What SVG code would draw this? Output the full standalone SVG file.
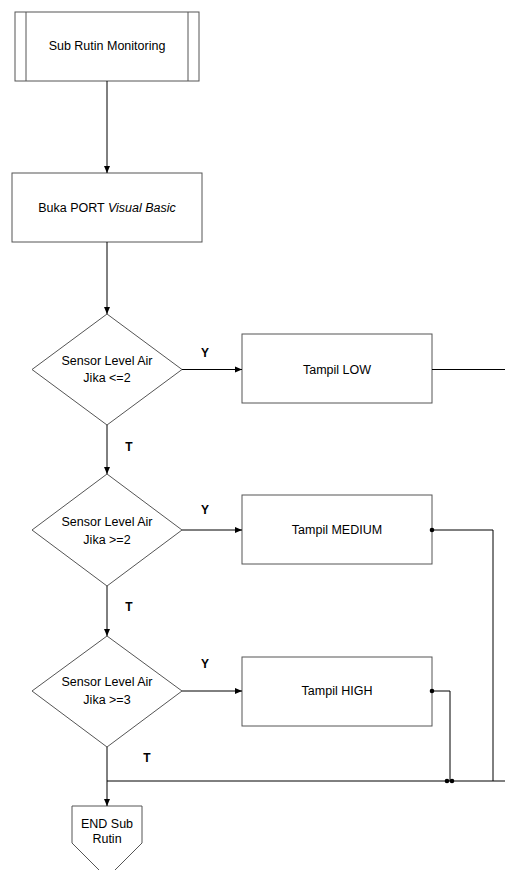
<svg xmlns="http://www.w3.org/2000/svg" width="505" height="870" viewBox="0 0 505 870">
<style>
.n{fill:#fff;stroke:#555;stroke-width:1}
.c{fill:none;stroke:#000;stroke-width:1}
.t{font-family:"Liberation Sans",Arial,sans-serif;font-size:12.5px;fill:#000;text-anchor:middle}
.l{font-family:"Liberation Sans",Arial,sans-serif;font-size:12px;font-weight:bold;fill:#000;text-anchor:middle}
</style>
<defs>
<marker id="a" markerWidth="8" markerHeight="8" refX="7" refY="4" orient="auto" markerUnits="userSpaceOnUse">
<path d="M0,1 L7,4 L0,7 Z" fill="#000"/>
</marker>
</defs>
<rect width="505" height="870" fill="#fff"/>
<g id="start">
<rect class="n" x="15" y="12" width="184" height="69"/>
<line class="n" x1="26" y1="12" x2="26" y2="81"/>
<line class="n" x1="188" y1="12" x2="188" y2="81"/>
<text class="t" x="107" y="50">Sub Rutin Monitoring</text>
</g>
<g id="open-port">
<rect class="n" x="12" y="173" width="190" height="69"/>
<text class="t" x="107" y="212">Buka PORT <tspan font-style="italic">Visual Basic</tspan></text>
</g>
<g id="dec1">
<polygon class="n" points="107,314 182,369.5 107,425 32,369.5"/>
<text class="t" x="107" y="365">Sensor Level Air</text>
<text class="t" x="107" y="382">Jika &lt;=2</text>
</g>
<g id="low">
<rect class="n" x="242" y="334" width="190" height="69"/>
<text class="t" x="337" y="374">Tampil LOW</text>
</g>
<g id="dec2">
<polygon class="n" points="107,474 182,530 107,586 32,530"/>
<text class="t" x="107" y="526">Sensor Level Air</text>
<text class="t" x="107" y="544">Jika &gt;=2</text>
</g>
<g id="medium">
<rect class="n" x="242" y="495" width="190" height="69"/>
<text class="t" x="337" y="534">Tampil MEDIUM</text>
</g>
<g id="dec3">
<polygon class="n" points="107,636 182,691 107,747 32,691"/>
<text class="t" x="107" y="686">Sensor Level Air</text>
<text class="t" x="107" y="704">Jika &gt;=3</text>
</g>
<g id="high">
<rect class="n" x="242" y="657" width="190" height="69"/>
<text class="t" x="337" y="695">Tampil HIGH</text>
</g>
<g id="end">
<polygon class="n" points="72,806 142,806 142,843 107,878 72,843"/>
<text class="t" x="107" y="828">END Sub</text>
<text class="t" x="107" y="843">Rutin</text>
</g>
<g id="connectors">
<line class="c" x1="107" y1="81" x2="107" y2="173" marker-end="url(#a)"/>
<line class="c" x1="107" y1="242" x2="107" y2="314" marker-end="url(#a)"/>
<line class="c" x1="182" y1="369.5" x2="242" y2="369.5" marker-end="url(#a)"/>
<line class="c" x1="432" y1="369.5" x2="505" y2="369.5"/>
<line class="c" x1="107" y1="425" x2="107" y2="474" marker-end="url(#a)"/>
<line class="c" x1="182" y1="530" x2="242" y2="530" marker-end="url(#a)"/>
<polyline class="c" points="432,530 493,530 493,781"/>
<circle cx="432" cy="530" r="2.3" fill="#000"/>
<line class="c" x1="107" y1="586" x2="107" y2="636" marker-end="url(#a)"/>
<line class="c" x1="182" y1="691" x2="242" y2="691" marker-end="url(#a)"/>
<polyline class="c" points="432,691 450,691 450,781"/>
<circle cx="432" cy="691" r="2.3" fill="#000"/>
<line class="c" x1="107" y1="781" x2="505" y2="781"/>
<circle cx="447" cy="781" r="2.3" fill="#000"/>
<circle cx="452" cy="781" r="2.3" fill="#000"/>
<line class="c" x1="107" y1="747" x2="107" y2="806" marker-end="url(#a)"/>
<text class="l" x="205" y="357">Y</text>
<text class="l" x="129" y="451">T</text>
<text class="l" x="205" y="514">Y</text>
<text class="l" x="129" y="611">T</text>
<text class="l" x="205" y="668">Y</text>
<text class="l" x="147" y="762">T</text>
</g>
</svg>
